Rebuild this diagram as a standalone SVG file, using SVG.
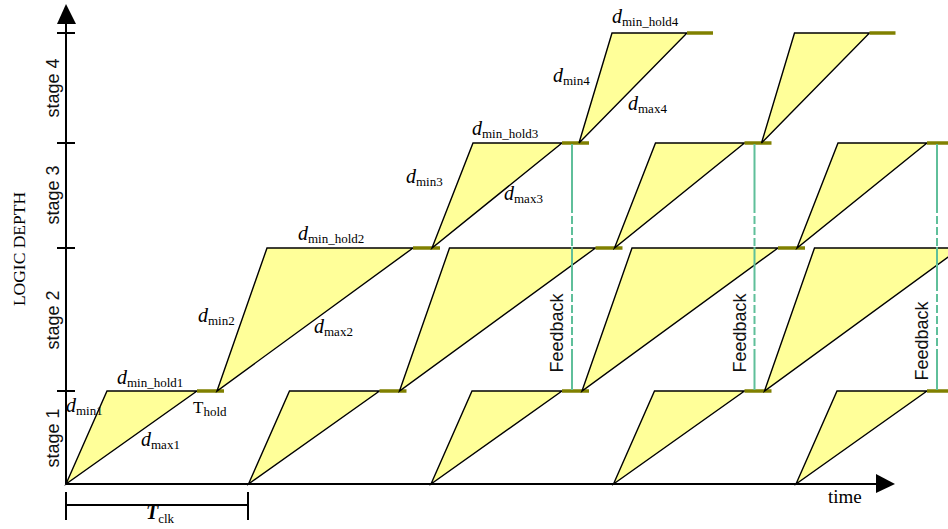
<svg xmlns="http://www.w3.org/2000/svg" width="948" height="529" viewBox="0 0 948 529">
<defs>
<style>
.w{fill:#ffff99;stroke:#000;stroke-width:1.4;stroke-linejoin:miter}
.h{stroke:#808000;stroke-width:3.5;fill:none}
.ax{stroke:#000;stroke-width:2;fill:none}
.fb{stroke:#5fbf9a;stroke-width:2;fill:none}
.fbd{stroke:#5fbf9a;stroke-width:2;fill:none;stroke-dasharray:8 3}
.sf{font-family:"Liberation Sans",Arial,sans-serif;font-size:18px;fill:#111}
.sr{font-family:"Liberation Serif","Times New Roman",serif;fill:#000}
.d{font-family:"Liberation Serif","Times New Roman",serif;font-size:20px;font-style:italic;fill:#000}
.sub{font-size:13px;font-style:normal}
</style>
</defs>
<rect width="948" height="529" fill="#fff"/>
<g id="axes">
<line class="ax" x1="66" y1="484" x2="66" y2="20"/>
<polygon points="66,4 57,24 76,24" fill="#000"/>
<line class="ax" x1="66" y1="484" x2="878" y2="484"/>
<polygon points="895,484 876,474 876,493" fill="#000"/>
<line class="ax" x1="57" y1="33" x2="75" y2="33"/>
<line class="ax" x1="57" y1="143" x2="75" y2="143"/>
<line class="ax" x1="57" y1="248" x2="75" y2="248"/>
<line class="ax" x1="57" y1="391" x2="75" y2="391"/>
<line class="ax" x1="66" y1="505" x2="248" y2="505"/>
<line class="ax" x1="66" y1="492" x2="66" y2="520"/>
<line class="ax" x1="248" y1="492" x2="248" y2="520"/>
</g>
<g id="labels-axis">
<text class="sr" font-size="17.5" transform="translate(25,249) rotate(-90)" text-anchor="middle">LOGIC DEPTH</text>
<text class="sf" transform="translate(59,88) rotate(-90)" text-anchor="middle">stage 4</text>
<text class="sf" transform="translate(59,195) rotate(-90)" text-anchor="middle">stage 3</text>
<text class="sf" transform="translate(59,320) rotate(-90)" text-anchor="middle">stage 2</text>
<text class="sf" transform="translate(59,438) rotate(-90)" text-anchor="middle">stage 1</text>
<text class="sr" font-size="19" x="828" y="503">time</text>
<text class="d" font-size="24" font-weight="bold" x="146" y="519">T<tspan class="sub" font-size="14" font-weight="normal" dy="4">clk</tspan></text>
</g>
<g id="stage1">
<polygon class="w" points="66,484 107,391 197,391"/>
<polygon class="w" points="248.5,484 289.5,391 379.5,391"/>
<polygon class="w" points="431,484 472,391 562,391"/>
<polygon class="w" points="613.5,484 654.5,391 744.5,391"/>
<polygon class="w" points="796,484 837,391 927,391"/>
<line class="h" x1="197" y1="391" x2="224" y2="391"/>
<line class="h" x1="379.5" y1="391" x2="406.5" y2="391"/>
<line class="h" x1="562" y1="391" x2="589" y2="391"/>
<line class="h" x1="744.5" y1="391" x2="771.5" y2="391"/>
<line class="h" x1="927" y1="391" x2="954" y2="391"/>
</g>
<g id="stage2">
<polygon class="w" points="217,391 267,248 413,248"/>
<polygon class="w" points="399.5,391 449.5,248 595.5,248"/>
<polygon class="w" points="582,391 632,248 778,248"/>
<polygon class="w" points="764.5,391 814.5,248 960.5,248"/>
<line class="h" x1="413" y1="248" x2="440" y2="248"/>
<line class="h" x1="595.5" y1="248" x2="622.5" y2="248"/>
<line class="h" x1="778" y1="248" x2="805" y2="248"/>
</g>
<g id="stage3">
<polygon class="w" points="432,248 473,143 562,143"/>
<polygon class="w" points="614.5,248 655.5,143 744.5,143"/>
<polygon class="w" points="797,248 838,143 927,143"/>
<line class="h" x1="562" y1="143" x2="589" y2="143"/>
<line class="h" x1="744.5" y1="143" x2="771.5" y2="143"/>
<line class="h" x1="927" y1="143" x2="954" y2="143"/>
</g>
<g id="stage4">
<polygon class="w" points="579,143 612,33 687,33"/>
<polygon class="w" points="761.5,143 794.5,33 869.5,33"/>
<line class="h" x1="687" y1="33" x2="713" y2="33"/>
<line class="h" x1="869.5" y1="33" x2="895.5" y2="33"/>
</g>
<g id="connectors">
<path class="fb" d="M572,144V205M572,247V283M572,357V390"/>
<path class="fbd" d="M572,205V247M572,283V357"/>
<path class="fb" d="M754.5,144V205M754.5,247V283M754.5,357V390"/>
<path class="fbd" d="M754.5,205V247M754.5,283V357"/>
<path class="fb" d="M937,144V205M937,247V283M937,357V390"/>
<path class="fbd" d="M937,205V247M937,283V357"/>
</g>
<g id="feedback-labels">
<text class="sf" transform="translate(563,333) rotate(-90)" text-anchor="middle">Feedback</text>
<text class="sf" transform="translate(746,333) rotate(-90)" text-anchor="middle">Feedback</text>
<text class="sf" transform="translate(928,341) rotate(-90)" text-anchor="middle">Feedback</text>
</g>
<g id="delay-labels">
<text class="d" x="117" y="384">d<tspan class="sub" dy="3">min_hold1</tspan></text>
<text class="d" x="66" y="412">d<tspan class="sub" dy="3">min1</tspan></text>
<text class="sr" font-size="17" x="193" y="413">T<tspan font-size="13" dy="3">hold</tspan></text>
<text class="d" x="141" y="446">d<tspan class="sub" dy="3">max1</tspan></text>
<text class="d" x="298" y="240">d<tspan class="sub" dy="3">min_hold2</tspan></text>
<text class="d" x="198" y="322">d<tspan class="sub" dy="3">min2</tspan></text>
<text class="d" x="314" y="333">d<tspan class="sub" dy="3">max2</tspan></text>
<text class="d" x="472" y="135">d<tspan class="sub" dy="3">min_hold3</tspan></text>
<text class="d" x="406" y="183">d<tspan class="sub" dy="3">min3</tspan></text>
<text class="d" x="504" y="200">d<tspan class="sub" dy="3">max3</tspan></text>
<text class="d" x="612" y="23">d<tspan class="sub" dy="3">min_hold4</tspan></text>
<text class="d" x="553" y="82">d<tspan class="sub" dy="3">min4</tspan></text>
<text class="d" x="628" y="110">d<tspan class="sub" dy="3">max4</tspan></text>
</g>
</svg>
